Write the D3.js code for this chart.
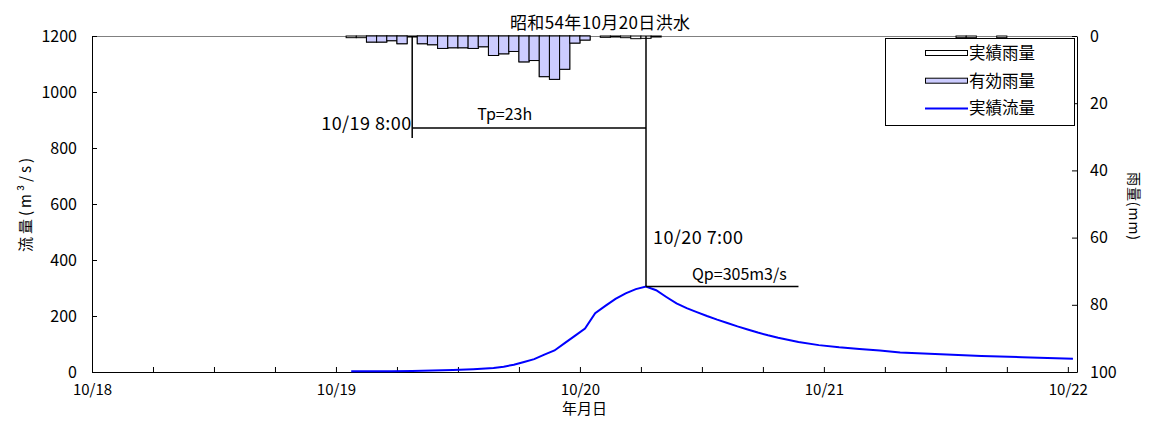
<!DOCTYPE html>
<html>
<head>
<meta charset="utf-8">
<script src="https://cdn.jsdelivr.net/npm/d3@7"></script>
<style>
  body { margin: 0; background: #fff; }
  svg text { font-family: "Noto Sans CJK JP", "Noto Sans", sans-serif; fill: #000; }
</style>
</head>
<body>
<div id="chart"></div>
<script>
// Datos del grafico (horas contadas desde 10/18 0:00)

// etiquetas del eje X (una por dia)
var dayLabels = ["10/18", "10/19", "10/20", "10/21", "10/22"];
// ticks de los ejes Y
var flowTicks = [0, 200, 400, 600, 800, 1000, 1200];
var rainTicks = [0, 20, 40, 60, 80, 100];

// lluvia horaria (hora final de cada intervalo)
var rainHours = [26, 27, 28, 29, 30, 31, 32, 33, 34, 35, 36, 37, 38, 39, 40, 41, 42,
  43, 44, 45, 46, 47, 48, 49, 51, 52, 53, 54, 55, 56, 86, 87, 90];
var observedRain = [0.5, 0.5, 1.8, 1.8, 1.4, 2.3, 0.3, 2.3, 2.6, 3.7, 3.5, 3.5, 3.7,
  3.2, 5.8, 5.3, 4.6, 7.7, 7.3, 12.1, 12.9, 9.9, 2.1, 1.2, 0.4, 0.3, 0.5, 0.8, 0.7,
  0.3, 0.5, 0.5, 0.5];
var effectiveRain = [0, 0, 1.8, 1.8, 1.4, 2.3, 0, 2.3, 2.6, 3.7, 3.5, 3.5, 3.7,
  3.2, 5.8, 5.3, 4.6, 7.7, 7.3, 12.1, 12.9, 9.9, 2.1, 1.2, 0, 0, 0, 0, 0,
  0, 0, 0, 0];

// caudal observado
var flowHours = [26, 28, 30, 32, 34, 36, 38, 40, 41, 42, 43, 44, 45, 46, 47, 48, 49,
  50, 51, 52, 53, 54, 55, 56, 57, 58, 59, 60, 61, 62, 63, 64, 65, 66, 67, 68, 70,
  72, 74, 76, 78, 80, 84, 88, 92, 97];
var flowValues = [3, 3, 3, 4, 5, 7, 10, 14, 19, 26, 36, 46, 62, 77, 103, 129, 155,
  210, 236, 261, 281, 296, 305, 292, 268, 245, 228, 214, 200, 187, 175, 163, 152,
  141, 131, 122, 107, 96, 88, 82, 77, 70, 63, 57, 53, 47];

// anotaciones
var riseHour = 32;   // 10/19 8:00
var peakHour = 55;   // 10/20 7:00
var qpEndHour = 70;
var peakFlow = 305;

// Medidas
var width = 1150;
var height = 441;
var plotLeft = 92;
var plotRight = 1077;
var plotTop = 36;
var plotBottom = 372;

var svg = d3
  .select("#chart")
  .append("svg")
  .attr("width", width)
  .attr("height", height);

// escalas
var xScale = d3.scaleLinear().domain([0, 96.9]).range([plotLeft, plotRight]);
var yScale = d3.scaleLinear().domain([0, 1200]).range([plotBottom, plotTop]);
var rScale = d3.scaleLinear().domain([0, 100]).range([plotTop, plotBottom]);

// los valores horarios se dibujan en el centro del intervalo
function xPos(h) {
  return xScale(h - 0.5);
}

// borde superior gris
svg.append("line")
  .attr("x1", plotLeft).attr("x2", plotRight)
  .attr("y1", plotTop + 0.5).attr("y2", plotTop + 0.5)
  .attr("stroke", "#808080");

// Barras de lluvia
var barW = xScale(1) - xScale(0);

svg.append("g")
  .selectAll("rect")
  .data(rainHours)
  .enter()
  .append("rect")
  .attr("x", function(d) { return xPos(d) - barW / 2; })
  .attr("y", rScale(0))
  .attr("width", barW)
  .attr("height", function(d, i) { return rScale(observedRain[i]) - rScale(0); })
  .attr("fill", "#ffffff")
  .attr("stroke", "#000")
  .attr("stroke-width", 1);

svg.append("g")
  .selectAll("rect")
  .data(rainHours.filter(function(d, i) { return effectiveRain[i] > 0; }))
  .enter()
  .append("rect")
  .attr("x", function(d) { return xPos(d) - barW / 2; })
  .attr("y", rScale(0))
  .attr("width", barW)
  .attr("height", function(d) {
    return rScale(effectiveRain[rainHours.indexOf(d)]) - rScale(0);
  })
  .attr("fill", "#ccccff")
  .attr("stroke", "#000")
  .attr("stroke-width", 1);

// Ejes
var xAxis = d3.axisBottom(xScale)
  .tickValues(d3.range(0, 97, 6))
  .tickSize(-5)
  .tickSizeOuter(0)
  .tickPadding(12)
  .tickFormat(function(d) { return d % 24 === 0 ? dayLabels[d / 24] : ""; });

var yAxis = d3.axisLeft(yScale)
  .tickValues(flowTicks)
  .tickSize(-5)
  .tickSizeOuter(0)
  .tickPadding(15)
  .tickFormat(d3.format("d"));

var rAxis = d3.axisRight(rScale)
  .tickValues(rainTicks)
  .tickSize(-5)
  .tickSizeOuter(0)
  .tickPadding(13)
  .tickFormat(d3.format("d"));

svg.append("g")
  .attr("class", "xAxis")
  .attr("transform", "translate(0," + plotBottom + ")")
  .call(xAxis);
svg.append("g")
  .attr("class", "yAxis")
  .attr("transform", "translate(" + plotLeft + ",0)")
  .call(yAxis);
svg.append("g")
  .attr("class", "rAxis")
  .attr("transform", "translate(" + plotRight + ",0)")
  .call(rAxis);

svg.selectAll(".xAxis text").attr("font-size", 15);
svg.selectAll(".yAxis text, .rAxis text").attr("font-size", 16);
svg.selectAll(".domain, .tick line").attr("stroke", "#000");

// Hidrograma
var line = d3.line()
  .x(function(d) { return xPos(d); })
  .y(function(d, i) { return yScale(flowValues[i]); });

svg.append("path")
  .datum(flowHours)
  .attr("d", line)
  .attr("fill", "none")
  .attr("stroke", "#0000ff")
  .attr("stroke-width", 2);

// Anotaciones Tp / Qp
var ann = svg.append("g")
  .attr("stroke", "#000")
  .attr("stroke-width", 1.5);

var tpY = 128;
var peakY = yScale(peakFlow);

ann.append("line")
  .attr("x1", xPos(riseHour)).attr("x2", xPos(riseHour))
  .attr("y1", plotTop).attr("y2", tpY + 10);
ann.append("line")
  .attr("x1", xPos(riseHour)).attr("x2", xPos(peakHour))
  .attr("y1", tpY).attr("y2", tpY);
ann.append("line")
  .attr("x1", xPos(peakHour)).attr("x2", xPos(peakHour))
  .attr("y1", plotTop).attr("y2", peakY);
ann.append("line")
  .attr("x1", xPos(peakHour)).attr("x2", xPos(qpEndHour))
  .attr("y1", peakY).attr("y2", peakY);

function annText(x, y, anchor, str, size, len) {
  var t = svg.append("text")
    .attr("x", x)
    .attr("y", y)
    .attr("text-anchor", anchor)
    .attr("font-size", size)
    .text(str);
  if (len) {
    t.attr("textLength", len).attr("lengthAdjust", "spacing");
  }
}

annText(xPos(riseHour) - 1, tpY + 2, "end", "10/19 8:00", 18, 90);
annText(xPos(riseHour) + 65, tpY - 8, "start",
  "Tp=" + (peakHour - riseHour) + "h", 16);
annText(xPos(peakHour) + 7, 244, "start", "10/20 7:00", 18, 90);
annText(xPos(peakHour) + 46, peakY - 7, "start", "Qp=" + peakFlow + "m3/s", 16);

// Titulos
svg.append("text")
  .attr("x", 600)
  .attr("y", 29)
  .attr("text-anchor", "middle")
  .attr("font-size", 17)
  .attr("textLength", 180)
  .attr("lengthAdjust", "spacing")
  .text("昭和54年10月20日洪水");

svg.append("text")
  .attr("x", (plotLeft + plotRight) / 2)
  .attr("y", 414)
  .attr("text-anchor", "middle")
  .attr("font-size", 15)
  .text("年月日");

svg.append("text")
  .attr("transform", "translate(31,205)rotate(-90)")
  .attr("text-anchor", "middle")
  .attr("font-size", 15)
  .attr("textLength", 94)
  .attr("lengthAdjust", "spacing")
  .text("流量(m³/s)");

svg.append("text")
  .attr("transform", "translate(1129,206)rotate(90)")
  .attr("text-anchor", "middle")
  .attr("font-size", 14)
  .attr("textLength", 68)
  .attr("lengthAdjust", "spacing")
  .text("雨量(mm)");

// Leyenda
var legend = svg.append("g").attr("transform", "translate(885,38)");

legend.append("rect")
  .attr("x", 0.5).attr("y", 0.5)
  .attr("width", 189).attr("height", 87)
  .attr("fill", "#fff")
  .attr("stroke", "#000");

var legendItems = [
  { label: "実績雨量", kind: "bar", fill: "#ffffff" },
  { label: "有効雨量", kind: "bar", fill: "#ccccff" },
  { label: "実績流量", kind: "line", fill: "#0000ff" }
];

legendItems.forEach(function(item, i) {
  var cy = 15 + i * 27.7;
  if (item.kind === "bar") {
    legend.append("rect")
      .attr("x", 40.5).attr("y", cy - 2.5)
      .attr("width", 42).attr("height", 5)
      .attr("fill", item.fill)
      .attr("stroke", "#000");
  }
  else {
    legend.append("line")
      .attr("x1", 40).attr("x2", 83)
      .attr("y1", cy).attr("y2", cy)
      .attr("stroke", item.fill)
      .attr("stroke-width", 2);
  }
  legend.append("text")
    .attr("x", 84)
    .attr("y", cy + 6)
    .attr("font-size", 16.5)
    .text(item.label);
});
</script>
</body>
</html>
